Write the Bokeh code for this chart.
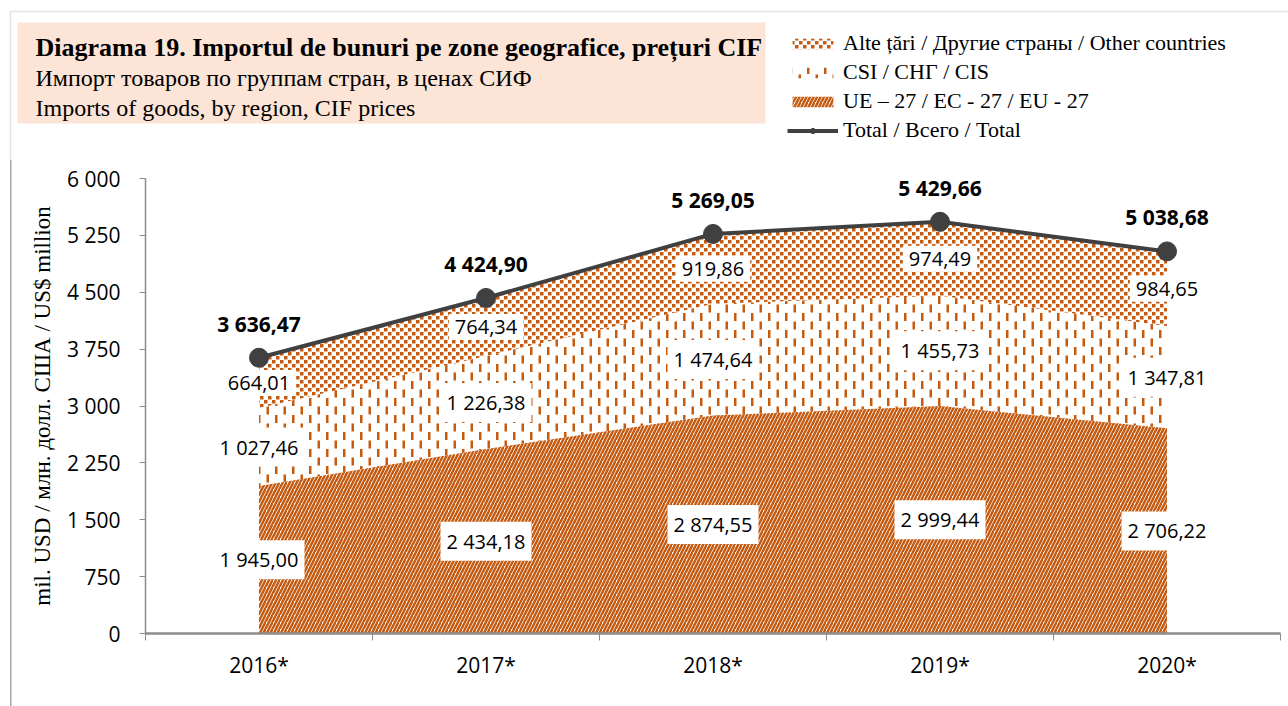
import numpy as np
from bokeh.plotting import figure
from bokeh.layouts import column
from bokeh.models import (ColumnDataSource, Label, BoxAnnotation, Legend, LegendItem,
                          FixedTicker, Range1d, CanvasTexture)
from bokeh.transform import stack
from bokeh.core.properties import value
from bokeh.embed import file_html
from bokeh.resources import INLINE

# ---------------- data ----------------
years = ["2016*", "2017*", "2018*", "2019*", "2020*"]
eu = [1945.00, 2434.18, 2874.55, 2999.44, 2706.22]
cis = [1027.46, 1226.38, 1474.64, 1455.73, 1347.81]
other = [664.01, 764.34, 919.86, 974.49, 984.65]
total = [3636.47, 4424.90, 5269.05, 5429.66, 5038.68]
y_ticks = [0, 750, 1500, 2250, 3000, 3750, 4500, 5250, 6000]
y_tick_labels = ["0", "750", "1 500", "2 250", "3 000", "3 750", "4 500", "5 250", "6 000"]

title_lines = ["Diagrama 19. Importul de bunuri pe zone geografice, prețuri CIF",
               "Импорт товаров по группам стран, в ценах СИФ",
               "Imports of goods, by region, CIF prices"]
legend_labels = ["Alte țări / Другие страны / Other countries",
                 "CSI / СНГ / CIS",
                 "UE – 27 / ЕС - 27 / EU - 27",
                 "Total / Всего / Total"]
y_title = "mil. USD / млн. долл. США / US$ million"

# ---------------- style ----------------
SERIF = "Liberation Serif"
SANS = "Open Sans"
ORANGE = "#C55A11"
DARK = "#404040"
AXIS = "#8C8C8C"
FRAME = "#A6A6A6"
W, H_HEAD, H_MAIN = 1288, 160, 546


def fmt(v):
    return f"{v:,.2f}".replace(",", " ").replace(".", ",")


# pattern tiles: the tile canvas is sized explicitly inside the texture code
oth_tex = CanvasTexture(code="""
const c = ctx.canvas;
c.width = 8; c.height = 8;
ctx.setTransform(1, 0, 0, 1, 0, 0);
ctx.clearRect(0, 0, 8, 8);
ctx.fillStyle = color;
ctx.fillRect(0, 0, 3.5, 3.5);
ctx.fillRect(4, 4, 3.5, 3.5);
""")
cis_tex = CanvasTexture(code="""
const c = ctx.canvas;
c.width = 17; c.height = 17;
ctx.setTransform(1, 0, 0, 1, 0, 0);
ctx.clearRect(0, 0, 17, 17);
ctx.fillStyle = color;
ctx.fillRect(3, 0, 2.5, 8);
ctx.fillRect(11.5, 8.5, 2.5, 8);
""")
HATCH = {
    "eu": dict(hatch_pattern="/", hatch_color=ORANGE, hatch_scale=7, hatch_weight=2.5),
    "cis": dict(hatch_pattern=value("cis"), hatch_extra={"cis": cis_tex},
                hatch_color=ORANGE, hatch_scale=17),
    "oth": dict(hatch_pattern=value("oth"), hatch_extra={"oth": oth_tex},
                hatch_color=ORANGE, hatch_scale=8),
}

xs = [i + 0.5 for i in range(len(years))]
src = ColumnDataSource(dict(x=xs, eu=eu, cis=cis, other=other, total=total))

# ---------------- main chart ----------------
p = figure(width=W, height=H_MAIN, output_backend="svg", toolbar_location=None,
           x_range=Range1d(0, 5), y_range=Range1d(0, 6000),
           min_border_left=145, min_border_right=8, min_border_top=18, min_border_bottom=73,
           styles={"background-image": f"linear-gradient({FRAME}, {FRAME})",
                   "background-size": "1.5px 100%", "background-position": "10px 0",
                   "background-repeat": "no-repeat"})
p.frame_align = False
p.border_fill_alpha = 0
p.outline_line_color = None
p.xgrid.visible = False
p.ygrid.visible = False

r_eu = p.varea(x="x", y1=0, y2=stack("eu"), source=src, fill_alpha=0, **HATCH["eu"])
r_cis = p.varea(x="x", y1=stack("eu"), y2=stack("eu", "cis"), source=src, fill_alpha=0,
                **HATCH["cis"])
r_oth = p.varea(x="x", y1=stack("eu", "cis"), y2=stack("eu", "cis", "other"), source=src,
                fill_alpha=0, **HATCH["oth"])
r_line = p.line(x="x", y="total", source=src, line_width=4, line_color=DARK)
r_pts = p.scatter(x="x", y="total", source=src, size=19, fill_color=DARK, line_color=DARK)

for i, xv in enumerate(xs):
    mids = [eu[i] / 2, eu[i] + cis[i] / 2, eu[i] + cis[i] + other[i] / 2]
    vals = [eu[i], cis[i], other[i]]
    for m, v in zip(mids, vals):
        p.add_layout(Label(x=xv, y=m, text=fmt(v), text_align="center", text_baseline="middle",
                           text_font=SANS, text_font_size="20px", text_color="#000000",
                           background_fill_color="white", padding=6))
    p.add_layout(Label(x=xv, y=total[i], y_offset=34, text=fmt(total[i]), text_align="center",
                       text_baseline="middle", text_font=SANS, text_font_size="21px",
                       text_font_style="bold", text_color="#000000"))

p.yaxis.ticker = FixedTicker(ticks=y_ticks)
p.yaxis.major_label_overrides = {t: l for t, l in zip(y_ticks, y_tick_labels)}
p.yaxis.axis_line_color = AXIS
p.yaxis.axis_line_width = 1.5
p.yaxis.major_tick_line_color = AXIS
p.yaxis.major_tick_out = 6
p.yaxis.major_tick_in = 0
p.yaxis.minor_tick_line_color = None
p.yaxis.major_label_text_font = SANS
p.yaxis.major_label_text_font_size = "21px"
p.yaxis.major_label_text_color = "#000000"
p.yaxis.major_label_standoff = 19
p.yaxis.axis_label = y_title
p.yaxis.axis_label_text_font = SERIF
p.yaxis.axis_label_text_font_style = "normal"
p.yaxis.axis_label_text_font_size = "23px"
p.yaxis.axis_label_text_color = "#000000"
p.yaxis.axis_label_standoff = 9

p.xaxis.ticker = FixedTicker(ticks=xs, minor_ticks=[0, 1, 2, 3, 4, 5])
p.xaxis.major_label_overrides = {x: y for x, y in zip(xs, years)}
p.xaxis.axis_line_color = AXIS
p.xaxis.axis_line_width = 2.5
p.xaxis.major_tick_line_color = None
p.xaxis.minor_tick_line_color = AXIS
p.xaxis.minor_tick_out = 7
p.xaxis.minor_tick_in = 0
p.xaxis.major_label_text_font = SANS
p.xaxis.major_label_text_font_size = "21px"
p.xaxis.major_label_text_color = "#000000"
p.xaxis.major_label_standoff = 10

# ---------------- header: title box and legend ----------------
h = figure(width=W, height=H_HEAD, output_backend="svg", toolbar_location=None,
           x_range=Range1d(0, W), y_range=Range1d(H_HEAD, 0),
           x_axis_location=None, y_axis_location=None, min_border=0)
h.frame_align = False
h.outline_line_color = None
h.xgrid.visible = False
h.ygrid.visible = False
h.border_fill_alpha = 0
h.background_fill_alpha = 0

h.add_layout(BoxAnnotation(left=10, right=W + 50, top=11, bottom=H_HEAD + 50,
                           fill_alpha=0, line_color=FRAME, line_width=1.5))
h.add_layout(BoxAnnotation(left=17, right=765, top=22, bottom=123,
                           fill_color="#FCE4D6", fill_alpha=1, line_color=None))
for k, t in enumerate(title_lines):
    h.add_layout(Label(x=35, y=47 + 30 * k, text=t, text_baseline="middle", text_align="left",
                       text_font=SERIF, text_font_size="26px" if k == 0 else "24px",
                       text_font_style="bold" if k == 0 else "normal", text_color="#000000"))

# legend proxies (zero-size, off-canvas) carrying the series styles
off = dict(x=[-20, -10], y1=[-20, -20], y2=[-20, -20])
d_oth = h.varea(fill_alpha=0, **off, **HATCH["oth"])
d_cis = h.varea(fill_alpha=0, **off, **HATCH["cis"])
d_eu = h.varea(fill_alpha=0, **off, **HATCH["eu"])
d_line = h.line(x=[-20, -10], y=[-20, -20], line_width=4, line_color=DARK)
d_pts = h.scatter(x=[-20], y=[-20], size=16, fill_color=DARK, line_color=DARK)

legend = Legend(items=[LegendItem(label=legend_labels[0], renderers=[d_oth]),
                       LegendItem(label=legend_labels[1], renderers=[d_cis]),
                       LegendItem(label=legend_labels[2], renderers=[d_eu]),
                       LegendItem(label=legend_labels[3], renderers=[d_line, d_pts])],
                location=(787, 17), glyph_width=51, glyph_height=13, label_height=22,
                label_standoff=5, spacing=3, padding=0, margin=0,
                border_line_color=None, background_fill_alpha=0,
                label_text_font=SERIF, label_text_font_size="22px", label_text_color="#000000")
h.add_layout(legend)

layout = column(h, p, spacing=0)
open("out.html", "w").write(file_html(layout, INLINE))
